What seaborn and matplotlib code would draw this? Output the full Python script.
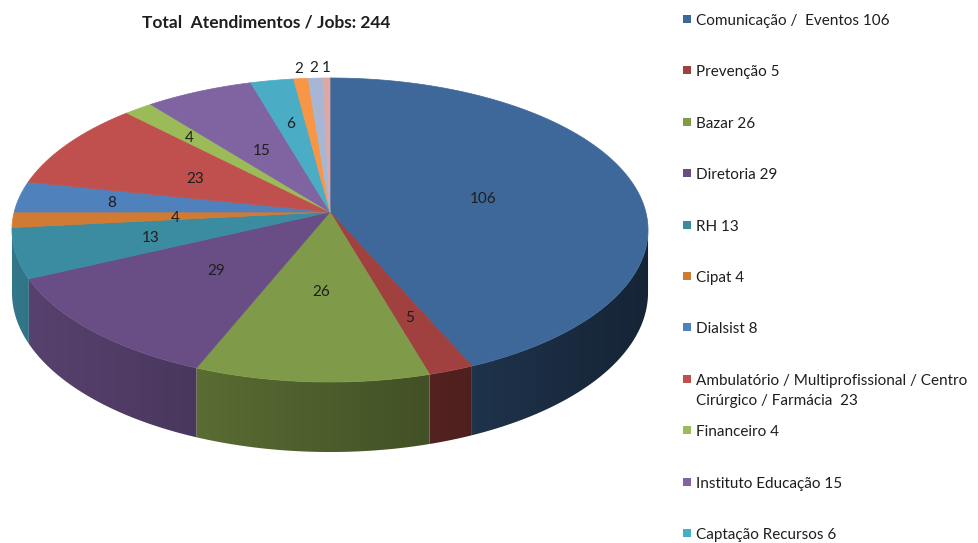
import numpy as np
import matplotlib
matplotlib.use("Agg")
import matplotlib.pyplot as plt
from matplotlib.patches import Polygon, Rectangle
from matplotlib.colors import to_rgb
import seaborn as sns

# ---- data -------------------------------------------------------------
categories = [
    "Comunicação /  Eventos",
    "Prevenção",
    "Bazar",
    "Diretoria",
    "RH",
    "Cipat",
    "Dialsist",
    "Ambulatório / Multiprofissional / Centro\nCirúrgico / Farmácia ",
    "Financeiro",
    "Instituto Educação",
    "Captação Recursos",
]
values = [106, 5, 26, 29, 13, 4, 8, 23, 4, 15, 6, 2, 2, 1]
colors = ["#3E689A", "#A0413F", "#7F9A48", "#684E84", "#3B8BA1", "#D17A34",
          "#4F81BD", "#C0504D", "#9BBB59", "#8064A2", "#4BACC6", "#F79646",
          "#A8B6D6", "#DDA7A6"]
# radial position of each value label (fraction of the radius)
label_r = [0.5, 0.68, 0.49, 0.5, 0.58, 0.49, 0.7, 0.5, 0.72, 0.5, 0.66,
           1.1, 1.1, 1.1]

total = sum(values)

# ---- style ------------------------------------------------------------
sns.set_theme(style="white")
plt.rcParams["font.family"] = ["Lato", "DejaVu Sans"]
TXT = "#1E1E1E"
FS = 11
DY = 2  # small baseline nudge for centred text

fig = plt.figure(figsize=(9.79, 5.43), dpi=100)
ax = fig.add_axes([0, 0, 1, 1])
ax.set_xlim(0, 979)
ax.set_ylim(543, 0)
ax.axis("off")

# ---- perspective disc geometry ----------------------------------------
CX, CY = 330.0, 212.0      # centre of the disc on screen
A, B = 315.8, 149.9        # horizontal / depth radii
K = 0.1184                 # perspective strength
H = 61.7                   # thickness of the disc


def proj(phi, r=1.0, z=0.0):
    X = r * np.cos(phi)
    Y = r * np.sin(phi)
    w = 1.0 + K * Y
    return CX + A * X / w, CY - (B * Y + H * z) / w


def shade_x(x):
    # lighter on the left side of the wall, darker on the right
    c = np.clip((x - CX) / A, -1, 1)
    return 0.6 - 0.25 * c


frac = np.array(values) / total
starts = np.pi / 2 - 2 * np.pi * np.concatenate([[0], np.cumsum(frac)[:-1]])
ends = starts - 2 * np.pi * frac

# visible part of the wall lies between the two silhouette angles
vis_lo, vis_hi = -np.pi + np.arcsin(K), -np.arcsin(K)

for s, e, c in zip(starts, ends, colors):
    lo, hi = max(e, vis_lo), min(s, vis_hi)
    if hi <= lo:
        continue
    n = max(3, int(np.degrees(hi - lo)) + 2)
    grid = np.linspace(hi, lo, n)
    xt, yt = proj(grid)
    xb, yb = proj(grid[::-1], z=-1)
    poly = Polygon(list(zip(xt, yt)) + list(zip(xb, yb)), closed=True,
                   facecolor="none", edgecolor="none")
    ax.add_patch(poly)
    x0, x1 = xt.min() - 1, xt.max() + 1
    y0, y1 = min(yt.min(), yb.min()) - 1, max(yt.max(), yb.max()) + 1
    cols = np.linspace(x0, x1, 200)
    base = np.array(to_rgb(c))
    img = np.clip(base[None, :] * shade_x(cols)[:, None], 0, 1)[None, :, :]
    im = ax.imshow(img, extent=(x0, x1, y1, y0), aspect="auto",
                   interpolation="bilinear", zorder=1)
    im.set_clip_path(poly)

ax.set_xlim(0, 979)
ax.set_ylim(543, 0)

# top faces
for s, e, c in zip(starts, ends, colors):
    n = max(3, int(np.degrees(s - e)) + 2)
    arc = np.linspace(s, e, n)
    xs, ys = proj(arc)
    pts = [(CX, CY)] + list(zip(xs, ys))
    ax.add_patch(Polygon(pts, closed=True, facecolor=c, edgecolor=c,
                         linewidth=0.5, zorder=2))

# value labels
for s, e, v, r in zip(starts, ends, values, label_r):
    mid = 0.5 * (s + e)
    x, y = proj(mid, r=r)
    ax.text(x, y + DY, f"{v}", ha="center", va="center", fontsize=FS,
            color=TXT, zorder=3)

# title
ax.text(266, 22 + 1, f"Total  Atendimentos / Jobs: {total}", ha="center",
        va="center", fontsize=12.5, fontweight="bold", color=TXT)

# legend
for i, (name, v, c) in enumerate(zip(categories, values, colors)):
    y0 = 19 + 51.4 * i
    ax.add_patch(Rectangle((683, y0 - 4), 8, 8, facecolor=c,
                           edgecolor="none"))
    lines = f"{name} {v}".split("\n")
    for j, line in enumerate(lines):
        ax.text(696, y0 + 20 * j + DY, line, ha="left", va="center",
                fontsize=FS, color=TXT)

fig.savefig("out.png", dpi=100)
